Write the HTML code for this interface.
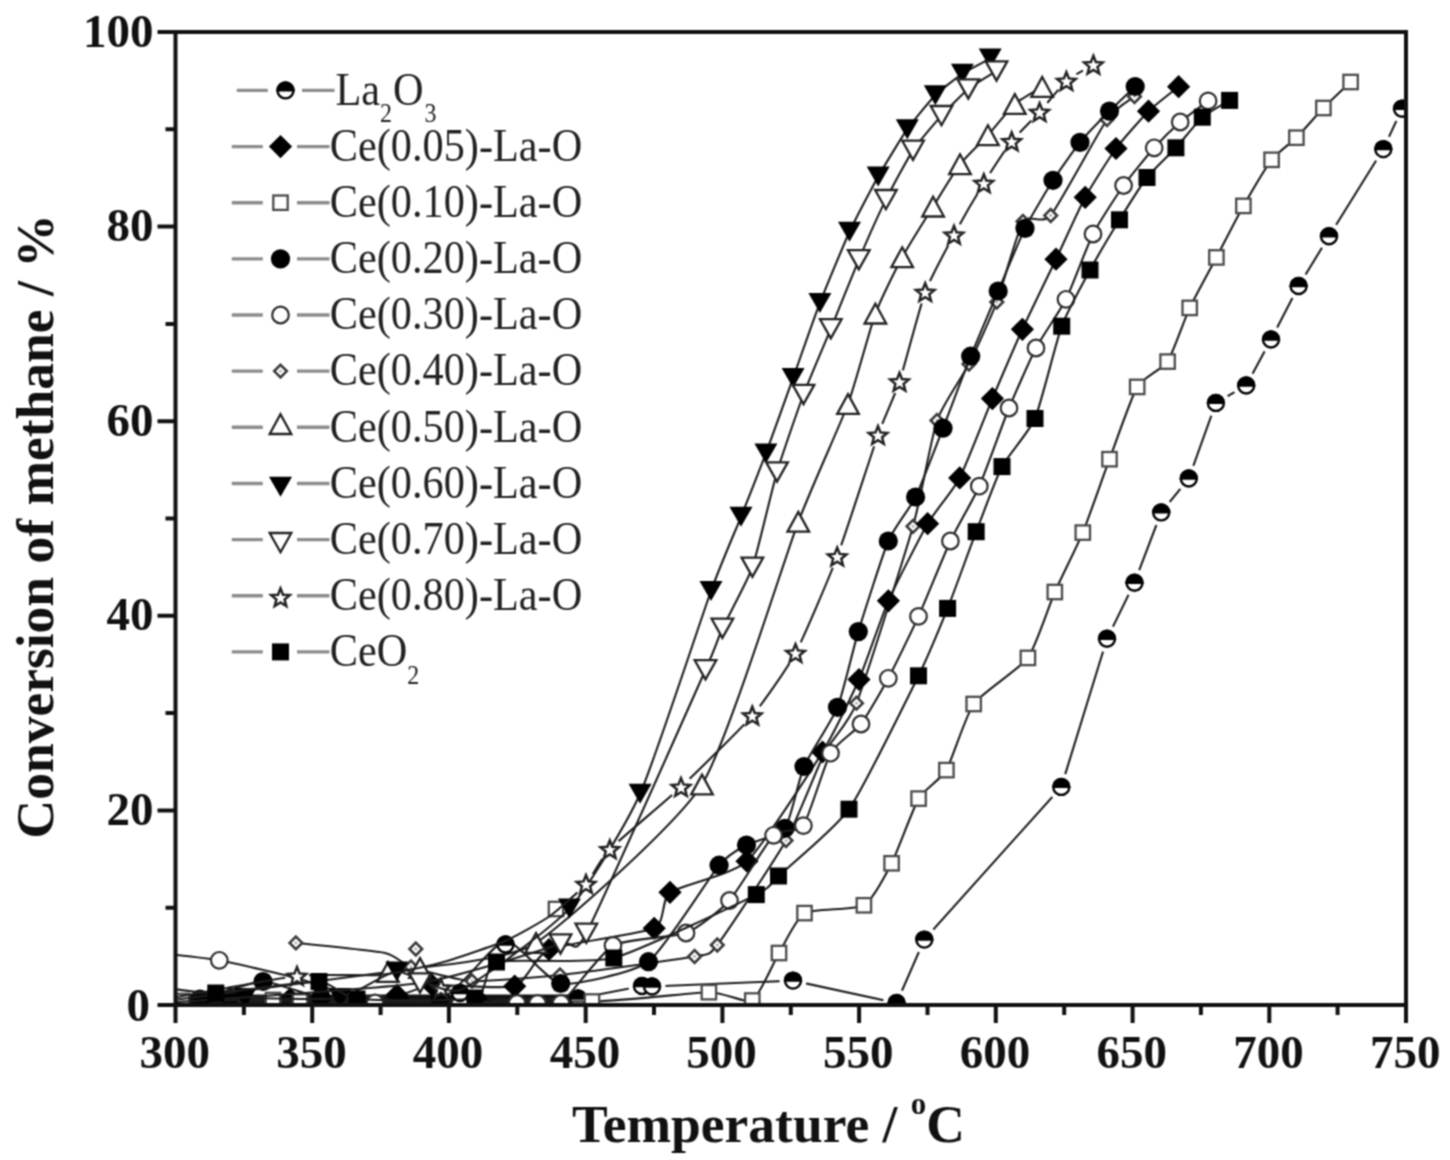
<!DOCTYPE html>
<html><head><meta charset="utf-8"><style>
html,body{margin:0;padding:0;background:#fff;overflow:hidden;}
svg{display:block;}
.tk{font-family:"Liberation Serif",serif;font-weight:bold;font-size:47px;fill:#111;}
.lg{font-family:"Liberation Serif",serif;font-size:45px;fill:#222;}
.tt{font-family:"Liberation Serif",serif;font-weight:bold;font-size:53.5px;fill:#111;}
</style></head><body>
<svg width="1450" height="1160" viewBox="0 0 1450 1160">
<defs><clipPath id="pa"><rect x="175.5" y="32.0" width="1230.5" height="973.0"/></clipPath></defs>
<filter id="soft" filterUnits="userSpaceOnUse" x="0" y="0" width="1450" height="1160" color-interpolation-filters="sRGB"><feConvolveMatrix order="3" kernelMatrix="1 2 1 2 4 2 1 2 1" divisor="16" edgeMode="duplicate"/></filter>
<rect width="1450" height="1160" fill="#fff"/>
<g filter="url(#soft)">
<rect width="1450" height="1160" fill="#fff"/>
<g clip-path="url(#pa)">
<defs><mask id="m_odia" maskUnits="userSpaceOnUse" x="0" y="0" width="1450" height="1160"><rect width="1450" height="1160" fill="#fff"/><circle cx="295.9" cy="942.9" r="0" fill="#000"/><circle cx="411.0" cy="967.0" r="0" fill="#000"/><circle cx="472.0" cy="981.0" r="0" fill="#000"/><circle cx="560.0" cy="975.0" r="0" fill="#000"/><circle cx="694.6" cy="956.5" r="0" fill="#000"/><circle cx="717.3" cy="945.0" r="0" fill="#000"/><circle cx="786.0" cy="840.5" r="0" fill="#000"/><circle cx="825.0" cy="752.0" r="0" fill="#000"/><circle cx="856.5" cy="703.2" r="0" fill="#000"/><circle cx="913.0" cy="526.3" r="0" fill="#000"/><circle cx="937.0" cy="420.5" r="0" fill="#000"/><circle cx="969.0" cy="364.0" r="0" fill="#000"/><circle cx="996.8" cy="302.0" r="0" fill="#000"/><circle cx="1023.0" cy="221.5" r="0" fill="#000"/><circle cx="1050.7" cy="215.5" r="0" fill="#000"/><circle cx="1107.0" cy="119.5" r="0" fill="#000"/><circle cx="1134.5" cy="96.5" r="0" fill="#000"/></mask><mask id="m_half" maskUnits="userSpaceOnUse" x="0" y="0" width="1450" height="1160"><rect width="1450" height="1160" fill="#fff"/><circle cx="200.0" cy="1001.5" r="13.5" fill="#000"/><circle cx="300.0" cy="1002.0" r="13.5" fill="#000"/><circle cx="400.0" cy="1002.0" r="13.5" fill="#000"/><circle cx="478.0" cy="1001.0" r="13.5" fill="#000"/><circle cx="578.0" cy="998.5" r="13.5" fill="#000"/><circle cx="642.0" cy="986.0" r="13.5" fill="#000"/><circle cx="652.0" cy="986.5" r="13.5" fill="#000"/><circle cx="793.0" cy="980.6" r="13.5" fill="#000"/><circle cx="896.6" cy="1003.0" r="13.5" fill="#000"/><circle cx="924.3" cy="939.6" r="13.5" fill="#000"/><circle cx="1061.3" cy="786.9" r="13.5" fill="#000"/><circle cx="1107.0" cy="638.8" r="13.5" fill="#000"/><circle cx="1134.5" cy="582.7" r="13.5" fill="#000"/><circle cx="1161.2" cy="512.4" r="13.5" fill="#000"/><circle cx="1188.8" cy="478.5" r="13.5" fill="#000"/><circle cx="1215.9" cy="402.9" r="13.5" fill="#000"/><circle cx="1246.2" cy="385.5" r="13.5" fill="#000"/><circle cx="1271.0" cy="339.5" r="13.5" fill="#000"/><circle cx="1298.6" cy="286.0" r="13.5" fill="#000"/><circle cx="1329.0" cy="236.2" r="13.5" fill="#000"/><circle cx="1383.3" cy="149.1" r="13.5" fill="#000"/><circle cx="1402.0" cy="108.8" r="13.5" fill="#000"/></mask><mask id="m_dia" maskUnits="userSpaceOnUse" x="0" y="0" width="1450" height="1160"><rect width="1450" height="1160" fill="#fff"/><circle cx="230.0" cy="998.0" r="0" fill="#000"/><circle cx="290.0" cy="999.0" r="0" fill="#000"/><circle cx="397.0" cy="995.0" r="0" fill="#000"/><circle cx="432.0" cy="985.0" r="0" fill="#000"/><circle cx="514.7" cy="986.2" r="0" fill="#000"/><circle cx="549.0" cy="949.5" r="0" fill="#000"/><circle cx="654.2" cy="928.3" r="0" fill="#000"/><circle cx="670.0" cy="892.3" r="0" fill="#000"/><circle cx="747.0" cy="861.2" r="0" fill="#000"/><circle cx="822.5" cy="752.0" r="0" fill="#000"/><circle cx="859.0" cy="679.5" r="0" fill="#000"/><circle cx="888.4" cy="600.8" r="0" fill="#000"/><circle cx="927.6" cy="523.7" r="0" fill="#000"/><circle cx="959.7" cy="477.9" r="0" fill="#000"/><circle cx="992.4" cy="398.6" r="0" fill="#000"/><circle cx="1022.4" cy="329.3" r="0" fill="#000"/><circle cx="1056.0" cy="259.2" r="0" fill="#000"/><circle cx="1085.2" cy="197.3" r="0" fill="#000"/><circle cx="1116.0" cy="148.5" r="0" fill="#000"/><circle cx="1148.5" cy="111.2" r="0" fill="#000"/><circle cx="1178.6" cy="86.7" r="0" fill="#000"/></mask><mask id="m_osq" maskUnits="userSpaceOnUse" x="0" y="0" width="1450" height="1160"><rect width="1450" height="1160" fill="#fff"/><circle cx="182.0" cy="1001.0" r="0" fill="#000"/><circle cx="273.0" cy="1000.0" r="0" fill="#000"/><circle cx="300.0" cy="1001.5" r="0" fill="#000"/><circle cx="592.0" cy="1001.5" r="0" fill="#000"/><circle cx="708.9" cy="992.2" r="0" fill="#000"/><circle cx="752.3" cy="1000.5" r="0" fill="#000"/><circle cx="779.0" cy="953.0" r="0" fill="#000"/><circle cx="804.5" cy="913.1" r="0" fill="#000"/><circle cx="863.9" cy="905.3" r="0" fill="#000"/><circle cx="891.6" cy="863.3" r="0" fill="#000"/><circle cx="918.6" cy="798.6" r="0" fill="#000"/><circle cx="946.4" cy="770.1" r="0" fill="#000"/><circle cx="973.7" cy="704.0" r="0" fill="#000"/><circle cx="1027.9" cy="657.9" r="0" fill="#000"/><circle cx="1054.8" cy="592.0" r="0" fill="#000"/><circle cx="1082.8" cy="532.6" r="0" fill="#000"/><circle cx="1109.5" cy="459.2" r="0" fill="#000"/><circle cx="1137.2" cy="386.9" r="0" fill="#000"/><circle cx="1167.6" cy="361.6" r="0" fill="#000"/><circle cx="1189.7" cy="307.9" r="0" fill="#000"/><circle cx="1216.4" cy="257.4" r="0" fill="#000"/><circle cx="1243.4" cy="205.9" r="0" fill="#000"/><circle cx="1271.6" cy="159.8" r="0" fill="#000"/><circle cx="1296.4" cy="137.7" r="0" fill="#000"/><circle cx="1323.4" cy="108.0" r="0" fill="#000"/><circle cx="1350.6" cy="82.0" r="0" fill="#000"/></mask><mask id="m_fcirc" maskUnits="userSpaceOnUse" x="0" y="0" width="1450" height="1160"><rect width="1450" height="1160" fill="#fff"/><circle cx="200.0" cy="999.0" r="0" fill="#000"/><circle cx="263.0" cy="981.5" r="0" fill="#000"/><circle cx="321.0" cy="997.0" r="0" fill="#000"/><circle cx="440.0" cy="999.0" r="0" fill="#000"/><circle cx="560.7" cy="983.5" r="0" fill="#000"/><circle cx="648.5" cy="961.7" r="0" fill="#000"/><circle cx="719.1" cy="865.2" r="0" fill="#000"/><circle cx="746.5" cy="845.0" r="0" fill="#000"/><circle cx="785.0" cy="828.3" r="0" fill="#000"/><circle cx="804.0" cy="766.5" r="0" fill="#000"/><circle cx="837.5" cy="707.3" r="0" fill="#000"/><circle cx="858.3" cy="631.6" r="0" fill="#000"/><circle cx="888.3" cy="541.0" r="0" fill="#000"/><circle cx="915.6" cy="497.0" r="0" fill="#000"/><circle cx="943.0" cy="428.2" r="0" fill="#000"/><circle cx="970.7" cy="356.2" r="0" fill="#000"/><circle cx="998.2" cy="291.0" r="0" fill="#000"/><circle cx="1025.0" cy="228.4" r="0" fill="#000"/><circle cx="1053.0" cy="180.3" r="0" fill="#000"/><circle cx="1080.0" cy="142.4" r="0" fill="#000"/><circle cx="1109.5" cy="111.1" r="0" fill="#000"/><circle cx="1135.2" cy="86.5" r="0" fill="#000"/></mask><mask id="m_ocirc" maskUnits="userSpaceOnUse" x="0" y="0" width="1450" height="1160"><rect width="1450" height="1160" fill="#fff"/><circle cx="160.0" cy="953.0" r="0" fill="#000"/><circle cx="219.3" cy="960.3" r="0" fill="#000"/><circle cx="375.0" cy="1003.0" r="0" fill="#000"/><circle cx="460.0" cy="1003.5" r="0" fill="#000"/><circle cx="517.0" cy="1003.5" r="0" fill="#000"/><circle cx="537.5" cy="1003.5" r="0" fill="#000"/><circle cx="561.0" cy="1003.5" r="0" fill="#000"/><circle cx="613.0" cy="945.5" r="0" fill="#000"/><circle cx="686.0" cy="933.0" r="0" fill="#000"/><circle cx="729.5" cy="900.5" r="0" fill="#000"/><circle cx="773.6" cy="835.3" r="0" fill="#000"/><circle cx="803.4" cy="825.6" r="0" fill="#000"/><circle cx="830.5" cy="753.2" r="0" fill="#000"/><circle cx="861.0" cy="724.0" r="0" fill="#000"/><circle cx="888.3" cy="678.3" r="0" fill="#000"/><circle cx="918.5" cy="616.4" r="0" fill="#000"/><circle cx="950.4" cy="541.0" r="0" fill="#000"/><circle cx="979.3" cy="486.2" r="0" fill="#000"/><circle cx="1009.0" cy="408.0" r="0" fill="#000"/><circle cx="1036.0" cy="348.0" r="0" fill="#000"/><circle cx="1066.0" cy="299.3" r="0" fill="#000"/><circle cx="1093.0" cy="234.0" r="0" fill="#000"/><circle cx="1123.6" cy="185.5" r="0" fill="#000"/><circle cx="1154.2" cy="147.8" r="0" fill="#000"/><circle cx="1180.2" cy="122.0" r="0" fill="#000"/><circle cx="1208.1" cy="100.9" r="0" fill="#000"/></mask><mask id="m_otri" maskUnits="userSpaceOnUse" x="0" y="0" width="1450" height="1160"><rect width="1450" height="1160" fill="#fff"/><circle cx="388.0" cy="972.0" r="0" fill="#000"/><circle cx="420.0" cy="968.0" r="0" fill="#000"/><circle cx="536.0" cy="943.0" r="0" fill="#000"/><circle cx="702.0" cy="784.5" r="0" fill="#000"/><circle cx="798.3" cy="521.8" r="0" fill="#000"/><circle cx="848.0" cy="404.0" r="0" fill="#000"/><circle cx="875.4" cy="313.6" r="0" fill="#000"/><circle cx="902.2" cy="257.2" r="0" fill="#000"/><circle cx="933.1" cy="206.6" r="0" fill="#000"/><circle cx="960.0" cy="164.2" r="0" fill="#000"/><circle cx="987.9" cy="135.2" r="0" fill="#000"/><circle cx="1014.8" cy="104.0" r="0" fill="#000"/><circle cx="1042.2" cy="86.9" r="0" fill="#000"/></mask><mask id="m_ftri_d" maskUnits="userSpaceOnUse" x="0" y="0" width="1450" height="1160"><rect width="1450" height="1160" fill="#fff"/><circle cx="245.0" cy="998.0" r="0" fill="#000"/><circle cx="340.0" cy="998.0" r="0" fill="#000"/><circle cx="396.8" cy="971.5" r="0" fill="#000"/><circle cx="569.4" cy="908.6" r="0" fill="#000"/><circle cx="640.1" cy="793.8" r="0" fill="#000"/><circle cx="711.0" cy="591.0" r="0" fill="#000"/><circle cx="741.0" cy="516.8" r="0" fill="#000"/><circle cx="765.9" cy="453.4" r="0" fill="#000"/><circle cx="793.1" cy="377.9" r="0" fill="#000"/><circle cx="819.9" cy="302.9" r="0" fill="#000"/><circle cx="849.5" cy="231.8" r="0" fill="#000"/><circle cx="878.2" cy="176.5" r="0" fill="#000"/><circle cx="907.3" cy="129.2" r="0" fill="#000"/><circle cx="935.3" cy="95.2" r="0" fill="#000"/><circle cx="962.4" cy="73.8" r="0" fill="#000"/><circle cx="990.2" cy="58.6" r="0" fill="#000"/></mask><mask id="m_otri_d" maskUnits="userSpaceOnUse" x="0" y="0" width="1450" height="1160"><rect width="1450" height="1160" fill="#fff"/><circle cx="420.0" cy="983.0" r="0" fill="#000"/><circle cx="560.5" cy="944.0" r="0" fill="#000"/><circle cx="586.3" cy="933.3" r="0" fill="#000"/><circle cx="705.5" cy="669.8" r="0" fill="#000"/><circle cx="722.4" cy="628.3" r="0" fill="#000"/><circle cx="752.4" cy="567.2" r="0" fill="#000"/><circle cx="777.0" cy="472.0" r="0" fill="#000"/><circle cx="803.5" cy="394.5" r="0" fill="#000"/><circle cx="830.8" cy="328.8" r="0" fill="#000"/><circle cx="858.8" cy="259.8" r="0" fill="#000"/><circle cx="885.9" cy="199.6" r="0" fill="#000"/><circle cx="913.0" cy="150.3" r="0" fill="#000"/><circle cx="941.5" cy="115.6" r="0" fill="#000"/><circle cx="968.3" cy="89.0" r="0" fill="#000"/><circle cx="996.5" cy="71.0" r="0" fill="#000"/></mask><mask id="m_star" maskUnits="userSpaceOnUse" x="0" y="0" width="1450" height="1160"><rect width="1450" height="1160" fill="#fff"/><circle cx="297.0" cy="976.0" r="12" fill="#000"/><circle cx="586.0" cy="884.0" r="12" fill="#000"/><circle cx="609.8" cy="849.3" r="12" fill="#000"/><circle cx="681.0" cy="787.0" r="12" fill="#000"/><circle cx="752.3" cy="715.6" r="12" fill="#000"/><circle cx="795.5" cy="653.0" r="12" fill="#000"/><circle cx="837.2" cy="556.5" r="12" fill="#000"/><circle cx="878.0" cy="435.0" r="12" fill="#000"/><circle cx="899.5" cy="381.7" r="12" fill="#000"/><circle cx="925.2" cy="292.1" r="12" fill="#000"/><circle cx="954.0" cy="234.8" r="12" fill="#000"/><circle cx="983.8" cy="183.2" r="12" fill="#000"/><circle cx="1011.7" cy="141.4" r="12" fill="#000"/><circle cx="1039.6" cy="112.0" r="12" fill="#000"/><circle cx="1066.4" cy="81.0" r="12" fill="#000"/><circle cx="1093.4" cy="64.7" r="12" fill="#000"/></mask><mask id="m_fsq" maskUnits="userSpaceOnUse" x="0" y="0" width="1450" height="1160"><rect width="1450" height="1160" fill="#fff"/><circle cx="160.0" cy="987.0" r="0" fill="#000"/><circle cx="215.8" cy="993.0" r="0" fill="#000"/><circle cx="319.0" cy="981.5" r="0" fill="#000"/><circle cx="357.0" cy="999.0" r="0" fill="#000"/><circle cx="475.0" cy="998.0" r="0" fill="#000"/><circle cx="496.5" cy="962.0" r="0" fill="#000"/><circle cx="613.8" cy="958.0" r="0" fill="#000"/><circle cx="756.3" cy="894.6" r="0" fill="#000"/><circle cx="778.5" cy="876.0" r="0" fill="#000"/><circle cx="849.0" cy="809.2" r="0" fill="#000"/><circle cx="918.5" cy="675.8" r="0" fill="#000"/><circle cx="947.6" cy="608.4" r="0" fill="#000"/><circle cx="976.2" cy="531.7" r="0" fill="#000"/><circle cx="1002.0" cy="466.6" r="0" fill="#000"/><circle cx="1035.0" cy="418.5" r="0" fill="#000"/><circle cx="1061.7" cy="326.2" r="0" fill="#000"/><circle cx="1090.0" cy="270.0" r="0" fill="#000"/><circle cx="1119.5" cy="219.8" r="0" fill="#000"/><circle cx="1147.0" cy="177.5" r="0" fill="#000"/><circle cx="1175.9" cy="147.8" r="0" fill="#000"/><circle cx="1202.3" cy="117.2" r="0" fill="#000"/><circle cx="1229.6" cy="100.4" r="0" fill="#000"/></mask></defs>
<path d="M187,994.5 H598 V1005 H187 Z" fill="#111"/>
<path d="M295.9,942.9C304.2,943.8 374.3,950.8 385.0,953.0C395.7,955.2 402.9,964.4 411.0,967.0C419.1,969.6 458.1,980.3 472.0,981.0C485.9,981.7 539.2,977.3 560.0,975.0C580.8,972.7 679.9,959.3 694.6,956.5C709.3,953.7 708.8,955.8 717.3,945.0C725.8,934.2 775.9,858.5 786.0,840.5C796.1,822.5 818.4,764.8 825.0,752.0C831.6,739.2 848.3,724.3 856.5,703.2C864.7,682.1 905.5,552.7 913.0,526.3C920.5,499.9 931.8,435.6 937.0,420.5C942.2,405.4 963.4,375.1 969.0,364.0C974.6,352.9 991.8,315.3 996.8,302.0C1001.8,288.7 1018.0,229.6 1023.0,221.5C1028.0,213.4 1042.9,225.0 1050.7,215.5C1058.5,206.0 1099.2,130.6 1107.0,119.5C1114.8,108.4 1131.9,98.6 1134.5,96.5" fill="none" stroke="#1e1e1e" stroke-width="2.1" mask="url(#m_odia)"/>
<path d="M295.9,936.6L302.2,942.9L295.9,949.2L289.6,942.9Z" fill="#fff" stroke="#3a3a3a" stroke-width="2.6"/><circle cx="295.9" cy="942.9" r="1.4" fill="#b0b0b0"/>
<path d="M411.0,960.7L417.3,967.0L411.0,973.3L404.7,967.0Z" fill="#fff" stroke="#3a3a3a" stroke-width="2.6"/><circle cx="411.0" cy="967.0" r="1.4" fill="#b0b0b0"/>
<path d="M472.0,974.7L478.3,981.0L472.0,987.3L465.7,981.0Z" fill="#fff" stroke="#3a3a3a" stroke-width="2.6"/><circle cx="472.0" cy="981.0" r="1.4" fill="#b0b0b0"/>
<path d="M560.0,968.7L566.3,975.0L560.0,981.3L553.7,975.0Z" fill="#fff" stroke="#3a3a3a" stroke-width="2.6"/><circle cx="560.0" cy="975.0" r="1.4" fill="#b0b0b0"/>
<path d="M694.6,950.2L700.9,956.5L694.6,962.8L688.3,956.5Z" fill="#fff" stroke="#3a3a3a" stroke-width="2.6"/><circle cx="694.6" cy="956.5" r="1.4" fill="#b0b0b0"/>
<path d="M717.3,938.7L723.6,945.0L717.3,951.3L711.0,945.0Z" fill="#fff" stroke="#3a3a3a" stroke-width="2.6"/><circle cx="717.3" cy="945.0" r="1.4" fill="#b0b0b0"/>
<path d="M786.0,834.2L792.3,840.5L786.0,846.8L779.7,840.5Z" fill="#fff" stroke="#3a3a3a" stroke-width="2.6"/><circle cx="786.0" cy="840.5" r="1.4" fill="#b0b0b0"/>
<path d="M825.0,745.7L831.3,752.0L825.0,758.3L818.7,752.0Z" fill="#fff" stroke="#3a3a3a" stroke-width="2.6"/><circle cx="825.0" cy="752.0" r="1.4" fill="#b0b0b0"/>
<path d="M856.5,696.9L862.8,703.2L856.5,709.5L850.2,703.2Z" fill="#fff" stroke="#3a3a3a" stroke-width="2.6"/><circle cx="856.5" cy="703.2" r="1.4" fill="#b0b0b0"/>
<path d="M913.0,520.0L919.3,526.3L913.0,532.6L906.7,526.3Z" fill="#fff" stroke="#3a3a3a" stroke-width="2.6"/><circle cx="913.0" cy="526.3" r="1.4" fill="#b0b0b0"/>
<path d="M937.0,414.2L943.3,420.5L937.0,426.8L930.7,420.5Z" fill="#fff" stroke="#3a3a3a" stroke-width="2.6"/><circle cx="937.0" cy="420.5" r="1.4" fill="#b0b0b0"/>
<path d="M969.0,357.7L975.3,364.0L969.0,370.3L962.7,364.0Z" fill="#fff" stroke="#3a3a3a" stroke-width="2.6"/><circle cx="969.0" cy="364.0" r="1.4" fill="#b0b0b0"/>
<path d="M996.8,295.7L1003.1,302.0L996.8,308.3L990.5,302.0Z" fill="#fff" stroke="#3a3a3a" stroke-width="2.6"/><circle cx="996.8" cy="302.0" r="1.4" fill="#b0b0b0"/>
<path d="M1023.0,215.2L1029.3,221.5L1023.0,227.8L1016.7,221.5Z" fill="#fff" stroke="#3a3a3a" stroke-width="2.6"/><circle cx="1023.0" cy="221.5" r="1.4" fill="#b0b0b0"/>
<path d="M1050.7,209.2L1057.0,215.5L1050.7,221.8L1044.4,215.5Z" fill="#fff" stroke="#3a3a3a" stroke-width="2.6"/><circle cx="1050.7" cy="215.5" r="1.4" fill="#b0b0b0"/>
<path d="M1107.0,113.2L1113.3,119.5L1107.0,125.8L1100.7,119.5Z" fill="#fff" stroke="#3a3a3a" stroke-width="2.6"/><circle cx="1107.0" cy="119.5" r="1.4" fill="#b0b0b0"/>
<path d="M1134.5,90.2L1140.8,96.5L1134.5,102.8L1128.2,96.5Z" fill="#fff" stroke="#3a3a3a" stroke-width="2.6"/><circle cx="1134.5" cy="96.5" r="1.4" fill="#b0b0b0"/>
<path d="M200.0,1001.5C200.0,1001.5 300.0,1002.0 300.0,1002.0C300.0,1002.0 400.0,1002.0 400.0,1002.0C400.0,1002.0 478.0,1001.0 478.0,1001.0C478.0,1001.0 578.0,998.5 578.0,998.5C578.0,998.5 642.0,986.0 642.0,986.0C642.0,986.0 652.0,986.5 652.0,986.5C652.0,986.5 793.0,980.6 793.0,980.6C793.0,980.6 896.6,1003.0 896.6,1003.0C896.6,1003.0 924.3,939.6 924.3,939.6C924.3,939.6 1061.3,786.9 1061.3,786.9C1061.3,786.9 1107.0,638.8 1107.0,638.8C1107.0,638.8 1134.5,582.7 1134.5,582.7C1134.5,582.7 1161.2,512.4 1161.2,512.4C1161.2,512.4 1188.8,478.5 1188.8,478.5C1188.8,478.5 1215.9,402.9 1215.9,402.9C1215.9,402.9 1246.2,385.5 1246.2,385.5C1246.2,385.5 1271.0,339.5 1271.0,339.5C1271.0,339.5 1298.6,286.0 1298.6,286.0C1298.6,286.0 1329.0,236.2 1329.0,236.2C1329.0,236.2 1383.3,149.1 1383.3,149.1C1383.3,149.1 1402.0,108.8 1402.0,108.8" fill="none" stroke="#1e1e1e" stroke-width="2.1" mask="url(#m_half)"/>
<circle cx="200.0" cy="1001.5" r="8.0" fill="#fff" stroke="#000" stroke-width="2.4"/><path d="M192.0,1001.5A8.0,8.0 0 0 1 208.0,1001.5Z" fill="#000" stroke="#000" stroke-width="2.4"/>
<circle cx="300.0" cy="1002.0" r="8.0" fill="#fff" stroke="#000" stroke-width="2.4"/><path d="M292.0,1002.0A8.0,8.0 0 0 1 308.0,1002.0Z" fill="#000" stroke="#000" stroke-width="2.4"/>
<circle cx="400.0" cy="1002.0" r="8.0" fill="#fff" stroke="#000" stroke-width="2.4"/><path d="M392.0,1002.0A8.0,8.0 0 0 1 408.0,1002.0Z" fill="#000" stroke="#000" stroke-width="2.4"/>
<circle cx="478.0" cy="1001.0" r="8.0" fill="#fff" stroke="#000" stroke-width="2.4"/><path d="M470.0,1001.0A8.0,8.0 0 0 1 486.0,1001.0Z" fill="#000" stroke="#000" stroke-width="2.4"/>
<circle cx="578.0" cy="998.5" r="8.0" fill="#fff" stroke="#000" stroke-width="2.4"/><path d="M570.0,998.5A8.0,8.0 0 0 1 586.0,998.5Z" fill="#000" stroke="#000" stroke-width="2.4"/>
<circle cx="642.0" cy="986.0" r="8.0" fill="#fff" stroke="#000" stroke-width="2.4"/><path d="M634.0,986.0A8.0,8.0 0 0 1 650.0,986.0Z" fill="#000" stroke="#000" stroke-width="2.4"/>
<circle cx="652.0" cy="986.5" r="8.0" fill="#fff" stroke="#000" stroke-width="2.4"/><path d="M644.0,986.5A8.0,8.0 0 0 1 660.0,986.5Z" fill="#000" stroke="#000" stroke-width="2.4"/>
<circle cx="793.0" cy="980.6" r="8.0" fill="#fff" stroke="#000" stroke-width="2.4"/><path d="M785.0,980.6A8.0,8.0 0 0 1 801.0,980.6Z" fill="#000" stroke="#000" stroke-width="2.4"/>
<circle cx="896.6" cy="1003.0" r="8.0" fill="#fff" stroke="#000" stroke-width="2.4"/><path d="M888.6,1003.0A8.0,8.0 0 0 1 904.6,1003.0Z" fill="#000" stroke="#000" stroke-width="2.4"/>
<circle cx="924.3" cy="939.6" r="8.0" fill="#fff" stroke="#000" stroke-width="2.4"/><path d="M916.3,939.6A8.0,8.0 0 0 1 932.3,939.6Z" fill="#000" stroke="#000" stroke-width="2.4"/>
<circle cx="1061.3" cy="786.9" r="8.0" fill="#fff" stroke="#000" stroke-width="2.4"/><path d="M1053.3,786.9A8.0,8.0 0 0 1 1069.3,786.9Z" fill="#000" stroke="#000" stroke-width="2.4"/>
<circle cx="1107.0" cy="638.8" r="8.0" fill="#fff" stroke="#000" stroke-width="2.4"/><path d="M1099.0,638.8A8.0,8.0 0 0 1 1115.0,638.8Z" fill="#000" stroke="#000" stroke-width="2.4"/>
<circle cx="1134.5" cy="582.7" r="8.0" fill="#fff" stroke="#000" stroke-width="2.4"/><path d="M1126.5,582.7A8.0,8.0 0 0 1 1142.5,582.7Z" fill="#000" stroke="#000" stroke-width="2.4"/>
<circle cx="1161.2" cy="512.4" r="8.0" fill="#fff" stroke="#000" stroke-width="2.4"/><path d="M1153.2,512.4A8.0,8.0 0 0 1 1169.2,512.4Z" fill="#000" stroke="#000" stroke-width="2.4"/>
<circle cx="1188.8" cy="478.5" r="8.0" fill="#fff" stroke="#000" stroke-width="2.4"/><path d="M1180.8,478.5A8.0,8.0 0 0 1 1196.8,478.5Z" fill="#000" stroke="#000" stroke-width="2.4"/>
<circle cx="1215.9" cy="402.9" r="8.0" fill="#fff" stroke="#000" stroke-width="2.4"/><path d="M1207.9,402.9A8.0,8.0 0 0 1 1223.9,402.9Z" fill="#000" stroke="#000" stroke-width="2.4"/>
<circle cx="1246.2" cy="385.5" r="8.0" fill="#fff" stroke="#000" stroke-width="2.4"/><path d="M1238.2,385.5A8.0,8.0 0 0 1 1254.2,385.5Z" fill="#000" stroke="#000" stroke-width="2.4"/>
<circle cx="1271.0" cy="339.5" r="8.0" fill="#fff" stroke="#000" stroke-width="2.4"/><path d="M1263.0,339.5A8.0,8.0 0 0 1 1279.0,339.5Z" fill="#000" stroke="#000" stroke-width="2.4"/>
<circle cx="1298.6" cy="286.0" r="8.0" fill="#fff" stroke="#000" stroke-width="2.4"/><path d="M1290.6,286.0A8.0,8.0 0 0 1 1306.6,286.0Z" fill="#000" stroke="#000" stroke-width="2.4"/>
<circle cx="1329.0" cy="236.2" r="8.0" fill="#fff" stroke="#000" stroke-width="2.4"/><path d="M1321.0,236.2A8.0,8.0 0 0 1 1337.0,236.2Z" fill="#000" stroke="#000" stroke-width="2.4"/>
<circle cx="1383.3" cy="149.1" r="8.0" fill="#fff" stroke="#000" stroke-width="2.4"/><path d="M1375.3,149.1A8.0,8.0 0 0 1 1391.3,149.1Z" fill="#000" stroke="#000" stroke-width="2.4"/>
<circle cx="1402.0" cy="108.8" r="8.0" fill="#fff" stroke="#000" stroke-width="2.4"/><path d="M1394.0,108.8A8.0,8.0 0 0 1 1410.0,108.8Z" fill="#000" stroke="#000" stroke-width="2.4"/>
<path d="M230.0,998.0C235.6,998.1 274.4,999.3 290.0,999.0C305.6,998.7 383.7,996.3 397.0,995.0C410.3,993.7 421.0,985.8 432.0,985.0C443.0,984.2 503.8,989.5 514.7,986.2C525.6,982.9 536.0,954.9 549.0,949.5C562.0,944.1 642.9,933.6 654.2,928.3C665.5,923.0 661.3,898.6 670.0,892.3C678.7,886.0 732.8,874.3 747.0,861.2C761.2,848.1 812.0,769.0 822.5,752.0C833.0,735.0 852.8,693.6 859.0,679.5C865.2,665.4 882.0,615.3 888.4,600.8C894.8,586.3 920.9,535.2 927.6,523.7C934.3,512.2 953.7,489.6 959.7,477.9C965.7,466.2 986.5,412.5 992.4,398.6C998.3,384.7 1016.5,342.3 1022.4,329.3C1028.3,316.3 1050.1,271.5 1056.0,259.2C1061.9,246.9 1079.6,207.6 1085.2,197.3C1090.8,187.0 1110.1,156.5 1116.0,148.5C1121.9,140.5 1142.7,117.0 1148.5,111.2C1154.3,105.4 1175.8,89.0 1178.6,86.7" fill="none" stroke="#1e1e1e" stroke-width="2.1" mask="url(#m_dia)"/>
<path d="M230.0,986.4L241.6,998.0L230.0,1009.6L218.4,998.0Z" fill="#000"/>
<path d="M290.0,987.4L301.6,999.0L290.0,1010.6L278.4,999.0Z" fill="#000"/>
<path d="M397.0,983.4L408.6,995.0L397.0,1006.6L385.4,995.0Z" fill="#000"/>
<path d="M432.0,973.4L443.6,985.0L432.0,996.6L420.4,985.0Z" fill="#000"/>
<path d="M514.7,974.6L526.3,986.2L514.7,997.8L503.1,986.2Z" fill="#000"/>
<path d="M549.0,937.9L560.6,949.5L549.0,961.1L537.4,949.5Z" fill="#000"/>
<path d="M654.2,916.7L665.8,928.3L654.2,939.9L642.6,928.3Z" fill="#000"/>
<path d="M670.0,880.7L681.6,892.3L670.0,903.9L658.4,892.3Z" fill="#000"/>
<path d="M747.0,849.6L758.6,861.2L747.0,872.8L735.4,861.2Z" fill="#000"/>
<path d="M822.5,740.4L834.1,752.0L822.5,763.6L810.9,752.0Z" fill="#000"/>
<path d="M859.0,667.9L870.6,679.5L859.0,691.1L847.4,679.5Z" fill="#000"/>
<path d="M888.4,589.2L900.0,600.8L888.4,612.4L876.8,600.8Z" fill="#000"/>
<path d="M927.6,512.1L939.2,523.7L927.6,535.3L916.0,523.7Z" fill="#000"/>
<path d="M959.7,466.3L971.3,477.9L959.7,489.5L948.1,477.9Z" fill="#000"/>
<path d="M992.4,387.0L1004.0,398.6L992.4,410.2L980.8,398.6Z" fill="#000"/>
<path d="M1022.4,317.7L1034.0,329.3L1022.4,340.9L1010.8,329.3Z" fill="#000"/>
<path d="M1056.0,247.6L1067.6,259.2L1056.0,270.8L1044.4,259.2Z" fill="#000"/>
<path d="M1085.2,185.7L1096.8,197.3L1085.2,208.9L1073.6,197.3Z" fill="#000"/>
<path d="M1116.0,136.9L1127.6,148.5L1116.0,160.1L1104.4,148.5Z" fill="#000"/>
<path d="M1148.5,99.6L1160.1,111.2L1148.5,122.8L1136.9,111.2Z" fill="#000"/>
<path d="M1178.6,75.1L1190.2,86.7L1178.6,98.3L1167.0,86.7Z" fill="#000"/>
<path d="M182.0,1001.0C190.5,1000.9 262.0,1000.0 273.0,1000.0C284.0,1000.0 270.2,1001.4 300.0,1001.5C329.8,1001.6 553.8,1002.4 592.0,1001.5C630.2,1000.6 693.9,992.3 708.9,992.2C723.9,992.1 745.8,1004.2 752.3,1000.5C758.8,996.8 774.1,961.2 779.0,953.0C783.9,944.8 796.6,917.6 804.5,913.1C812.4,908.6 855.8,909.9 863.9,905.3C872.0,900.7 886.5,873.3 891.6,863.3C896.7,853.3 913.5,807.3 918.6,798.6C923.7,789.9 941.3,778.9 946.4,770.1C951.5,761.3 966.1,714.5 973.7,704.0C981.3,693.5 1020.3,668.4 1027.9,657.9C1035.5,647.4 1049.7,603.7 1054.8,592.0C1059.9,580.3 1077.7,545.0 1082.8,532.6C1087.9,520.2 1104.4,472.8 1109.5,459.2C1114.6,445.6 1131.8,396.0 1137.2,386.9C1142.6,377.8 1162.7,369.0 1167.6,361.6C1172.5,354.2 1185.1,317.6 1189.7,307.9C1194.3,298.2 1211.4,266.9 1216.4,257.4C1221.4,247.9 1238.2,215.0 1243.4,205.9C1248.6,196.8 1266.7,166.2 1271.6,159.8C1276.5,153.4 1291.6,142.5 1296.4,137.7C1301.2,132.9 1318.3,113.2 1323.4,108.0C1328.5,102.8 1348.1,84.4 1350.6,82.0" fill="none" stroke="#1e1e1e" stroke-width="2.1" mask="url(#m_osq)"/>
<rect x="174.8" y="993.8" width="14.4" height="14.4" fill="#fff" stroke="#4a4a4a" stroke-width="2.3"/>
<rect x="265.8" y="992.8" width="14.4" height="14.4" fill="#fff" stroke="#4a4a4a" stroke-width="2.3"/>
<rect x="292.8" y="994.3" width="14.4" height="14.4" fill="#fff" stroke="#4a4a4a" stroke-width="2.3"/>
<rect x="584.8" y="994.3" width="14.4" height="14.4" fill="#fff" stroke="#4a4a4a" stroke-width="2.3"/>
<rect x="701.7" y="985.0" width="14.4" height="14.4" fill="#fff" stroke="#4a4a4a" stroke-width="2.3"/>
<rect x="745.1" y="993.3" width="14.4" height="14.4" fill="#fff" stroke="#4a4a4a" stroke-width="2.3"/>
<rect x="771.8" y="945.8" width="14.4" height="14.4" fill="#fff" stroke="#4a4a4a" stroke-width="2.3"/>
<rect x="797.3" y="905.9" width="14.4" height="14.4" fill="#fff" stroke="#4a4a4a" stroke-width="2.3"/>
<rect x="856.7" y="898.1" width="14.4" height="14.4" fill="#fff" stroke="#4a4a4a" stroke-width="2.3"/>
<rect x="884.4" y="856.1" width="14.4" height="14.4" fill="#fff" stroke="#4a4a4a" stroke-width="2.3"/>
<rect x="911.4" y="791.4" width="14.4" height="14.4" fill="#fff" stroke="#4a4a4a" stroke-width="2.3"/>
<rect x="939.2" y="762.9" width="14.4" height="14.4" fill="#fff" stroke="#4a4a4a" stroke-width="2.3"/>
<rect x="966.5" y="696.8" width="14.4" height="14.4" fill="#fff" stroke="#4a4a4a" stroke-width="2.3"/>
<rect x="1020.7" y="650.7" width="14.4" height="14.4" fill="#fff" stroke="#4a4a4a" stroke-width="2.3"/>
<rect x="1047.6" y="584.8" width="14.4" height="14.4" fill="#fff" stroke="#4a4a4a" stroke-width="2.3"/>
<rect x="1075.6" y="525.4" width="14.4" height="14.4" fill="#fff" stroke="#4a4a4a" stroke-width="2.3"/>
<rect x="1102.3" y="452.0" width="14.4" height="14.4" fill="#fff" stroke="#4a4a4a" stroke-width="2.3"/>
<rect x="1130.0" y="379.7" width="14.4" height="14.4" fill="#fff" stroke="#4a4a4a" stroke-width="2.3"/>
<rect x="1160.4" y="354.4" width="14.4" height="14.4" fill="#fff" stroke="#4a4a4a" stroke-width="2.3"/>
<rect x="1182.5" y="300.7" width="14.4" height="14.4" fill="#fff" stroke="#4a4a4a" stroke-width="2.3"/>
<rect x="1209.2" y="250.2" width="14.4" height="14.4" fill="#fff" stroke="#4a4a4a" stroke-width="2.3"/>
<rect x="1236.2" y="198.7" width="14.4" height="14.4" fill="#fff" stroke="#4a4a4a" stroke-width="2.3"/>
<rect x="1264.4" y="152.6" width="14.4" height="14.4" fill="#fff" stroke="#4a4a4a" stroke-width="2.3"/>
<rect x="1289.2" y="130.5" width="14.4" height="14.4" fill="#fff" stroke="#4a4a4a" stroke-width="2.3"/>
<rect x="1316.2" y="100.8" width="14.4" height="14.4" fill="#fff" stroke="#4a4a4a" stroke-width="2.3"/>
<rect x="1343.4" y="74.8" width="14.4" height="14.4" fill="#fff" stroke="#4a4a4a" stroke-width="2.3"/>
<path d="M200.0,999.0C205.9,997.4 251.7,981.7 263.0,981.5C274.3,981.3 304.5,995.4 321.0,997.0C337.5,998.6 422.8,1004.2 440.0,999.0C457.2,993.8 493.7,942.4 505.0,941.0C516.3,939.6 547.3,981.6 560.7,983.5C574.1,985.4 633.7,972.7 648.5,961.7C663.3,950.7 710.0,876.1 719.1,865.2C728.2,854.3 740.3,848.4 746.5,845.0C752.7,841.6 779.6,835.6 785.0,828.3C790.4,821.0 799.1,777.8 804.0,766.5C808.9,755.2 832.4,719.9 837.5,707.3C842.6,694.7 853.6,647.1 858.3,631.6C863.0,616.1 883.0,553.6 888.3,541.0C893.6,528.4 910.5,507.5 915.6,497.0C920.7,486.5 937.9,441.3 943.0,428.2C948.1,415.1 965.5,369.0 970.7,356.2C975.9,343.4 993.1,302.9 998.2,291.0C1003.3,279.1 1019.9,238.7 1025.0,228.4C1030.1,218.1 1047.9,188.3 1053.0,180.3C1058.1,172.3 1074.7,148.9 1080.0,142.4C1085.3,135.9 1104.3,116.3 1109.5,111.1C1114.7,105.9 1132.8,88.8 1135.2,86.5" fill="none" stroke="#1e1e1e" stroke-width="2.1" mask="url(#m_fcirc)"/>
<circle cx="200.0" cy="999.0" r="9.6" fill="#000"/>
<circle cx="263.0" cy="981.5" r="9.6" fill="#000"/>
<circle cx="321.0" cy="997.0" r="9.6" fill="#000"/>
<circle cx="440.0" cy="999.0" r="9.6" fill="#000"/>
<circle cx="560.7" cy="983.5" r="9.6" fill="#000"/>
<circle cx="648.5" cy="961.7" r="9.6" fill="#000"/>
<circle cx="719.1" cy="865.2" r="9.6" fill="#000"/>
<circle cx="746.5" cy="845.0" r="9.6" fill="#000"/>
<circle cx="785.0" cy="828.3" r="9.6" fill="#000"/>
<circle cx="804.0" cy="766.5" r="9.6" fill="#000"/>
<circle cx="837.5" cy="707.3" r="9.6" fill="#000"/>
<circle cx="858.3" cy="631.6" r="9.6" fill="#000"/>
<circle cx="888.3" cy="541.0" r="9.6" fill="#000"/>
<circle cx="915.6" cy="497.0" r="9.6" fill="#000"/>
<circle cx="943.0" cy="428.2" r="9.6" fill="#000"/>
<circle cx="970.7" cy="356.2" r="9.6" fill="#000"/>
<circle cx="998.2" cy="291.0" r="9.6" fill="#000"/>
<circle cx="1025.0" cy="228.4" r="9.6" fill="#000"/>
<circle cx="1053.0" cy="180.3" r="9.6" fill="#000"/>
<circle cx="1080.0" cy="142.4" r="9.6" fill="#000"/>
<circle cx="1109.5" cy="111.1" r="9.6" fill="#000"/>
<circle cx="1135.2" cy="86.5" r="9.6" fill="#000"/>
<path d="M160.0,953.0C165.5,953.7 206.2,957.9 219.3,960.3C232.4,962.7 285.5,975.0 300.0,979.0C314.5,983.0 360.1,1000.7 375.0,1003.0C389.9,1005.3 446.7,1003.5 460.0,1003.5C473.3,1003.5 509.8,1003.5 517.0,1003.5C524.2,1003.5 533.4,1003.5 537.5,1003.5C541.6,1003.5 554.0,1008.9 561.0,1003.5C568.0,998.1 601.3,952.1 613.0,945.5C624.7,938.9 675.1,937.2 686.0,933.0C696.9,928.8 721.3,909.6 729.5,900.5C737.7,891.4 766.7,842.3 773.6,835.3C780.5,828.3 798.1,833.3 803.4,825.6C808.7,817.9 825.1,762.7 830.5,753.2C835.9,743.7 855.6,731.0 861.0,724.0C866.4,717.0 882.9,688.3 888.3,678.3C893.7,668.3 912.7,629.2 918.5,616.4C924.3,603.6 944.7,553.2 950.4,541.0C956.1,528.8 973.8,498.6 979.3,486.2C984.8,473.8 1003.7,420.9 1009.0,408.0C1014.3,395.1 1030.7,358.1 1036.0,348.0C1041.3,337.9 1060.7,309.9 1066.0,299.3C1071.3,288.7 1087.6,244.6 1093.0,234.0C1098.4,223.4 1117.9,193.5 1123.6,185.5C1129.3,177.5 1148.9,153.7 1154.2,147.8C1159.5,141.9 1175.2,126.4 1180.2,122.0C1185.2,117.6 1205.5,102.9 1208.1,100.9" fill="none" stroke="#1e1e1e" stroke-width="2.1" mask="url(#m_ocirc)"/>
<circle cx="160.0" cy="953.0" r="8.3" fill="#fff" stroke="#2e2e2e" stroke-width="2.2"/>
<circle cx="219.3" cy="960.3" r="8.3" fill="#fff" stroke="#2e2e2e" stroke-width="2.2"/>
<circle cx="375.0" cy="1003.0" r="8.3" fill="#fff" stroke="#2e2e2e" stroke-width="2.2"/>
<circle cx="460.0" cy="1003.5" r="8.3" fill="#fff" stroke="#2e2e2e" stroke-width="2.2"/>
<circle cx="517.0" cy="1003.5" r="8.3" fill="#fff" stroke="#2e2e2e" stroke-width="2.2"/>
<circle cx="537.5" cy="1003.5" r="8.3" fill="#fff" stroke="#2e2e2e" stroke-width="2.2"/>
<circle cx="561.0" cy="1003.5" r="8.3" fill="#fff" stroke="#2e2e2e" stroke-width="2.2"/>
<circle cx="613.0" cy="945.5" r="8.3" fill="#fff" stroke="#2e2e2e" stroke-width="2.2"/>
<circle cx="686.0" cy="933.0" r="8.3" fill="#fff" stroke="#2e2e2e" stroke-width="2.2"/>
<circle cx="729.5" cy="900.5" r="8.3" fill="#fff" stroke="#2e2e2e" stroke-width="2.2"/>
<circle cx="773.6" cy="835.3" r="8.3" fill="#fff" stroke="#2e2e2e" stroke-width="2.2"/>
<circle cx="803.4" cy="825.6" r="8.3" fill="#fff" stroke="#2e2e2e" stroke-width="2.2"/>
<circle cx="830.5" cy="753.2" r="8.3" fill="#fff" stroke="#2e2e2e" stroke-width="2.2"/>
<circle cx="861.0" cy="724.0" r="8.3" fill="#fff" stroke="#2e2e2e" stroke-width="2.2"/>
<circle cx="888.3" cy="678.3" r="8.3" fill="#fff" stroke="#2e2e2e" stroke-width="2.2"/>
<circle cx="918.5" cy="616.4" r="8.3" fill="#fff" stroke="#2e2e2e" stroke-width="2.2"/>
<circle cx="950.4" cy="541.0" r="8.3" fill="#fff" stroke="#2e2e2e" stroke-width="2.2"/>
<circle cx="979.3" cy="486.2" r="8.3" fill="#fff" stroke="#2e2e2e" stroke-width="2.2"/>
<circle cx="1009.0" cy="408.0" r="8.3" fill="#fff" stroke="#2e2e2e" stroke-width="2.2"/>
<circle cx="1036.0" cy="348.0" r="8.3" fill="#fff" stroke="#2e2e2e" stroke-width="2.2"/>
<circle cx="1066.0" cy="299.3" r="8.3" fill="#fff" stroke="#2e2e2e" stroke-width="2.2"/>
<circle cx="1093.0" cy="234.0" r="8.3" fill="#fff" stroke="#2e2e2e" stroke-width="2.2"/>
<circle cx="1123.6" cy="185.5" r="8.3" fill="#fff" stroke="#2e2e2e" stroke-width="2.2"/>
<circle cx="1154.2" cy="147.8" r="8.3" fill="#fff" stroke="#2e2e2e" stroke-width="2.2"/>
<circle cx="1180.2" cy="122.0" r="8.3" fill="#fff" stroke="#2e2e2e" stroke-width="2.2"/>
<circle cx="1208.1" cy="100.9" r="8.3" fill="#fff" stroke="#2e2e2e" stroke-width="2.2"/>
<path d="M150.0,1003.0C172.2,1000.1 362.8,975.3 388.0,972.0C413.2,968.7 406.2,970.7 420.0,968.0C433.8,965.3 509.7,960.1 536.0,943.0C562.3,925.9 677.5,823.8 702.0,784.5C726.5,745.2 784.7,557.3 798.3,521.8C811.9,486.3 840.8,423.4 848.0,404.0C855.2,384.6 870.3,327.3 875.4,313.6C880.5,299.9 896.8,267.2 902.2,257.2C907.6,247.2 927.7,215.3 933.1,206.6C938.5,197.9 954.9,170.9 960.0,164.2C965.1,157.5 982.8,140.8 987.9,135.2C993.0,129.6 1009.7,108.5 1014.8,104.0C1019.9,99.5 1039.6,88.5 1042.2,86.9" fill="none" stroke="#1e1e1e" stroke-width="2.1" mask="url(#m_otri)"/>
<path d="M388.0,962.1L398.8,981.9L377.2,981.9Z" fill="#fff" stroke="#222" stroke-width="2.3" stroke-linejoin="miter"/>
<path d="M420.0,958.1L430.8,977.9L409.2,977.9Z" fill="#fff" stroke="#222" stroke-width="2.3" stroke-linejoin="miter"/>
<path d="M536.0,933.1L546.8,952.9L525.2,952.9Z" fill="#fff" stroke="#222" stroke-width="2.3" stroke-linejoin="miter"/>
<path d="M702.0,774.6L712.8,794.4L691.2,794.4Z" fill="#fff" stroke="#222" stroke-width="2.3" stroke-linejoin="miter"/>
<path d="M798.3,511.9L809.1,531.7L787.5,531.7Z" fill="#fff" stroke="#222" stroke-width="2.3" stroke-linejoin="miter"/>
<path d="M848.0,394.1L858.8,413.9L837.2,413.9Z" fill="#fff" stroke="#222" stroke-width="2.3" stroke-linejoin="miter"/>
<path d="M875.4,303.7L886.2,323.5L864.6,323.5Z" fill="#fff" stroke="#222" stroke-width="2.3" stroke-linejoin="miter"/>
<path d="M902.2,247.3L913.0,267.1L891.4,267.1Z" fill="#fff" stroke="#222" stroke-width="2.3" stroke-linejoin="miter"/>
<path d="M933.1,196.7L943.9,216.5L922.3,216.5Z" fill="#fff" stroke="#222" stroke-width="2.3" stroke-linejoin="miter"/>
<path d="M960.0,154.3L970.8,174.1L949.2,174.1Z" fill="#fff" stroke="#222" stroke-width="2.3" stroke-linejoin="miter"/>
<path d="M987.9,125.3L998.7,145.1L977.1,145.1Z" fill="#fff" stroke="#222" stroke-width="2.3" stroke-linejoin="miter"/>
<path d="M1014.8,94.1L1025.6,113.9L1004.0,113.9Z" fill="#fff" stroke="#222" stroke-width="2.3" stroke-linejoin="miter"/>
<path d="M1042.2,77.0L1053.0,96.8L1031.4,96.8Z" fill="#fff" stroke="#222" stroke-width="2.3" stroke-linejoin="miter"/>
<rect x="548.8" y="901.8" width="14.4" height="14.4" fill="#fff" stroke="#4a4a4a" stroke-width="2.3"/>
<path d="M415.8,942.7L422.1,949.0L415.8,955.3L409.5,949.0Z" fill="#fff" stroke="#3a3a3a" stroke-width="2.6"/><circle cx="415.8" cy="949.0" r="1.4" fill="#b0b0b0"/>
<path d="M441.0,979.1L443.5,985.4L450.3,985.9L445.1,990.2L446.8,996.8L441.0,993.2L435.2,996.8L436.9,990.2L431.7,985.9L438.5,985.4Z" fill="#fff" stroke="#222" stroke-width="2.5" stroke-linejoin="miter"/>
<circle cx="505.5" cy="944.5" r="8.0" fill="#fff" stroke="#000" stroke-width="2.4"/><path d="M497.5,944.5A8.0,8.0 0 0 1 513.5,944.5Z" fill="#000" stroke="#000" stroke-width="2.4"/>
<circle cx="460.0" cy="993.0" r="8.0" fill="#fff" stroke="#000" stroke-width="2.4"/><path d="M452.0,993.0A8.0,8.0 0 0 1 468.0,993.0Z" fill="#000" stroke="#000" stroke-width="2.4"/>
<path d="M245.0,998.0C253.9,998.0 325.8,1000.5 340.0,998.0C354.2,995.5 385.6,972.2 396.8,971.5C408.0,970.8 443.9,995.9 460.0,990.0C476.1,984.1 552.6,926.9 569.4,908.6C586.2,890.3 626.9,823.4 640.1,793.8C653.3,764.2 701.6,616.9 711.0,591.0C720.4,565.1 735.9,529.6 741.0,516.8C746.1,504.0 761.0,466.4 765.9,453.4C770.8,440.4 788.1,391.9 793.1,377.9C798.1,363.9 814.6,316.5 819.9,302.9C825.2,289.3 844.1,243.6 849.5,231.8C854.9,220.0 872.8,186.1 878.2,176.5C883.6,166.9 902.0,136.8 907.3,129.2C912.6,121.6 930.2,100.4 935.3,95.2C940.4,90.0 957.3,77.2 962.4,73.8C967.5,70.4 987.6,60.0 990.2,58.6" fill="none" stroke="#1e1e1e" stroke-width="2.1" mask="url(#m_ftri_d)"/>
<path d="M233.5,988.0L256.5,988.0L245.0,1008.0Z" fill="#000"/>
<path d="M328.5,988.0L351.5,988.0L340.0,1008.0Z" fill="#000"/>
<path d="M385.3,961.5L408.3,961.5L396.8,981.5Z" fill="#000"/>
<path d="M557.9,898.6L580.9,898.6L569.4,918.6Z" fill="#000"/>
<path d="M628.6,783.8L651.6,783.8L640.1,803.8Z" fill="#000"/>
<path d="M699.5,581.0L722.5,581.0L711.0,601.0Z" fill="#000"/>
<path d="M729.5,506.8L752.5,506.8L741.0,526.8Z" fill="#000"/>
<path d="M754.4,443.4L777.4,443.4L765.9,463.4Z" fill="#000"/>
<path d="M781.6,367.9L804.6,367.9L793.1,387.9Z" fill="#000"/>
<path d="M808.4,292.9L831.4,292.9L819.9,312.9Z" fill="#000"/>
<path d="M838.0,221.8L861.0,221.8L849.5,241.8Z" fill="#000"/>
<path d="M866.7,166.5L889.7,166.5L878.2,186.5Z" fill="#000"/>
<path d="M895.8,119.2L918.8,119.2L907.3,139.2Z" fill="#000"/>
<path d="M923.8,85.2L946.8,85.2L935.3,105.2Z" fill="#000"/>
<path d="M950.9,63.8L973.9,63.8L962.4,83.8Z" fill="#000"/>
<path d="M978.7,48.6L1001.7,48.6L990.2,68.6Z" fill="#000"/>
<path d="M150.0,1004.0C175.2,1002.0 381.7,988.6 420.0,983.0C458.3,977.4 545.0,948.6 560.5,944.0C576.0,939.4 572.8,958.9 586.3,933.3C599.8,907.7 692.8,698.3 705.5,669.8C718.2,641.3 718.0,637.9 722.4,628.3C726.8,618.7 747.3,581.8 752.4,567.2C757.5,552.6 772.2,488.1 777.0,472.0C781.8,455.9 798.5,407.9 803.5,394.5C808.5,381.1 825.6,341.4 830.8,328.8C836.0,316.2 853.7,271.9 858.8,259.8C863.9,247.7 880.8,209.8 885.9,199.6C891.0,189.4 907.8,158.1 913.0,150.3C918.2,142.5 936.3,121.3 941.5,115.6C946.7,109.9 963.2,93.2 968.3,89.0C973.4,84.8 993.9,72.7 996.5,71.0" fill="none" stroke="#1e1e1e" stroke-width="2.1" mask="url(#m_otri_d)"/>
<path d="M409.2,973.4L430.8,973.4L420.0,992.6Z" fill="#fff" stroke="#222" stroke-width="2.3" stroke-linejoin="miter"/>
<path d="M549.7,934.4L571.3,934.4L560.5,953.6Z" fill="#fff" stroke="#222" stroke-width="2.3" stroke-linejoin="miter"/>
<path d="M575.5,923.7L597.1,923.7L586.3,942.9Z" fill="#fff" stroke="#222" stroke-width="2.3" stroke-linejoin="miter"/>
<path d="M694.7,660.2L716.3,660.2L705.5,679.4Z" fill="#fff" stroke="#222" stroke-width="2.3" stroke-linejoin="miter"/>
<path d="M711.6,618.7L733.2,618.7L722.4,637.9Z" fill="#fff" stroke="#222" stroke-width="2.3" stroke-linejoin="miter"/>
<path d="M741.6,557.6L763.2,557.6L752.4,576.8Z" fill="#fff" stroke="#222" stroke-width="2.3" stroke-linejoin="miter"/>
<path d="M766.2,462.4L787.8,462.4L777.0,481.6Z" fill="#fff" stroke="#222" stroke-width="2.3" stroke-linejoin="miter"/>
<path d="M792.7,384.9L814.3,384.9L803.5,404.1Z" fill="#fff" stroke="#222" stroke-width="2.3" stroke-linejoin="miter"/>
<path d="M820.0,319.2L841.6,319.2L830.8,338.4Z" fill="#fff" stroke="#222" stroke-width="2.3" stroke-linejoin="miter"/>
<path d="M848.0,250.2L869.6,250.2L858.8,269.4Z" fill="#fff" stroke="#222" stroke-width="2.3" stroke-linejoin="miter"/>
<path d="M875.1,190.0L896.7,190.0L885.9,209.2Z" fill="#fff" stroke="#222" stroke-width="2.3" stroke-linejoin="miter"/>
<path d="M902.2,140.7L923.8,140.7L913.0,159.9Z" fill="#fff" stroke="#222" stroke-width="2.3" stroke-linejoin="miter"/>
<path d="M930.7,106.0L952.3,106.0L941.5,125.2Z" fill="#fff" stroke="#222" stroke-width="2.3" stroke-linejoin="miter"/>
<path d="M957.5,79.4L979.1,79.4L968.3,98.6Z" fill="#fff" stroke="#222" stroke-width="2.3" stroke-linejoin="miter"/>
<path d="M985.7,61.4L1007.3,61.4L996.5,80.6Z" fill="#fff" stroke="#222" stroke-width="2.3" stroke-linejoin="miter"/>
<path d="M150.0,1002.0C163.7,999.6 275.5,978.5 297.0,976.0C318.5,973.5 366.7,976.2 380.0,975.0C393.3,973.8 428.3,966.2 440.0,963.0C451.7,959.8 494.7,945.4 505.0,941.0C515.3,936.6 542.4,921.3 550.0,916.0C557.6,910.7 580.4,890.2 586.0,884.0C591.6,877.8 600.9,858.4 609.8,849.3C618.7,840.2 667.7,799.5 681.0,787.0C694.3,774.5 741.6,728.1 752.3,715.6C763.0,703.1 787.6,667.8 795.5,653.0C803.4,638.2 829.5,576.8 837.2,556.5C844.9,536.2 872.2,451.3 878.0,435.0C883.8,418.7 895.1,395.0 899.5,381.7C903.9,368.4 920.1,305.8 925.2,292.1C930.3,278.4 948.5,245.0 954.0,234.8C959.5,224.6 978.4,191.9 983.8,183.2C989.2,174.5 1006.5,148.0 1011.7,141.4C1016.9,134.8 1034.5,117.6 1039.6,112.0C1044.7,106.4 1061.4,85.4 1066.4,81.0C1071.4,76.6 1090.9,66.2 1093.4,64.7" fill="none" stroke="#1e1e1e" stroke-width="2.1" mask="url(#m_star)"/>
<path d="M297.0,967.1L299.5,973.4L306.3,973.9L301.1,978.2L302.8,984.8L297.0,981.2L291.2,984.8L292.9,978.2L287.7,973.9L294.5,973.4Z" fill="#fff" stroke="#222" stroke-width="2.5" stroke-linejoin="miter"/>
<path d="M586.0,875.1L588.5,881.4L595.3,881.9L590.1,886.2L591.8,892.8L586.0,889.2L580.2,892.8L581.9,886.2L576.7,881.9L583.5,881.4Z" fill="#fff" stroke="#222" stroke-width="2.5" stroke-linejoin="miter"/>
<path d="M609.8,840.4L612.3,846.7L619.1,847.2L613.9,851.5L615.6,858.1L609.8,854.5L604.0,858.1L605.7,851.5L600.5,847.2L607.3,846.7Z" fill="#fff" stroke="#222" stroke-width="2.5" stroke-linejoin="miter"/>
<path d="M681.0,778.1L683.5,784.4L690.3,784.9L685.1,789.2L686.8,795.8L681.0,792.2L675.2,795.8L676.9,789.2L671.7,784.9L678.5,784.4Z" fill="#fff" stroke="#222" stroke-width="2.5" stroke-linejoin="miter"/>
<path d="M752.3,706.7L754.8,713.0L761.6,713.5L756.4,717.8L758.1,724.4L752.3,720.8L746.5,724.4L748.2,717.8L743.0,713.5L749.8,713.0Z" fill="#fff" stroke="#222" stroke-width="2.5" stroke-linejoin="miter"/>
<path d="M795.5,644.1L798.0,650.4L804.8,650.9L799.6,655.2L801.3,661.8L795.5,658.2L789.7,661.8L791.4,655.2L786.2,650.9L793.0,650.4Z" fill="#fff" stroke="#222" stroke-width="2.5" stroke-linejoin="miter"/>
<path d="M837.2,547.6L839.7,553.9L846.5,554.4L841.3,558.7L843.0,565.3L837.2,561.7L831.4,565.3L833.1,558.7L827.9,554.4L834.7,553.9Z" fill="#fff" stroke="#222" stroke-width="2.5" stroke-linejoin="miter"/>
<path d="M878.0,426.1L880.5,432.4L887.3,432.9L882.1,437.2L883.8,443.8L878.0,440.2L872.2,443.8L873.9,437.2L868.7,432.9L875.5,432.4Z" fill="#fff" stroke="#222" stroke-width="2.5" stroke-linejoin="miter"/>
<path d="M899.5,372.8L902.0,379.1L908.8,379.6L903.6,383.9L905.3,390.5L899.5,386.9L893.7,390.5L895.4,383.9L890.2,379.6L897.0,379.1Z" fill="#fff" stroke="#222" stroke-width="2.5" stroke-linejoin="miter"/>
<path d="M925.2,283.2L927.7,289.5L934.5,290.0L929.3,294.3L931.0,300.9L925.2,297.3L919.4,300.9L921.1,294.3L915.9,290.0L922.7,289.5Z" fill="#fff" stroke="#222" stroke-width="2.5" stroke-linejoin="miter"/>
<path d="M954.0,225.9L956.5,232.2L963.3,232.7L958.1,237.0L959.8,243.6L954.0,240.0L948.2,243.6L949.9,237.0L944.7,232.7L951.5,232.2Z" fill="#fff" stroke="#222" stroke-width="2.5" stroke-linejoin="miter"/>
<path d="M983.8,174.3L986.3,180.6L993.1,181.1L987.9,185.4L989.6,192.0L983.8,188.4L978.0,192.0L979.7,185.4L974.5,181.1L981.3,180.6Z" fill="#fff" stroke="#222" stroke-width="2.5" stroke-linejoin="miter"/>
<path d="M1011.7,132.5L1014.2,138.8L1021.0,139.3L1015.8,143.6L1017.5,150.2L1011.7,146.6L1005.9,150.2L1007.6,143.6L1002.4,139.3L1009.2,138.8Z" fill="#fff" stroke="#222" stroke-width="2.5" stroke-linejoin="miter"/>
<path d="M1039.6,103.1L1042.1,109.4L1048.9,109.9L1043.7,114.2L1045.4,120.8L1039.6,117.2L1033.8,120.8L1035.5,114.2L1030.3,109.9L1037.1,109.4Z" fill="#fff" stroke="#222" stroke-width="2.5" stroke-linejoin="miter"/>
<path d="M1066.4,72.1L1068.9,78.4L1075.7,78.9L1070.5,83.2L1072.2,89.8L1066.4,86.2L1060.6,89.8L1062.3,83.2L1057.1,78.9L1063.9,78.4Z" fill="#fff" stroke="#222" stroke-width="2.5" stroke-linejoin="miter"/>
<path d="M1093.4,55.8L1095.9,62.1L1102.7,62.6L1097.5,66.9L1099.2,73.5L1093.4,69.9L1087.6,73.5L1089.3,66.9L1084.1,62.6L1090.9,62.1Z" fill="#fff" stroke="#222" stroke-width="2.5" stroke-linejoin="miter"/>
<path d="M160.0,987.0C165.2,987.6 201.0,993.5 215.8,993.0C230.6,992.5 305.8,980.9 319.0,981.5C332.2,982.1 342.4,997.5 357.0,999.0C371.6,1000.5 462.0,1001.5 475.0,998.0C488.0,994.5 483.5,965.7 496.5,962.0C509.5,958.3 589.6,964.3 613.8,958.0C638.0,951.7 740.9,902.3 756.3,894.6C771.7,886.9 769.8,884.0 778.5,876.0C787.2,868.0 835.9,827.9 849.0,809.2C862.1,790.5 909.3,694.5 918.5,675.8C927.7,657.1 942.2,621.8 947.6,608.4C953.0,595.0 971.1,544.9 976.2,531.7C981.3,518.5 996.5,477.2 1002.0,466.6C1007.5,456.0 1029.4,431.6 1035.0,418.5C1040.6,405.4 1056.6,340.1 1061.7,326.2C1066.8,312.3 1084.6,279.9 1090.0,270.0C1095.4,260.1 1114.2,228.4 1119.5,219.8C1124.8,211.2 1141.7,184.2 1147.0,177.5C1152.3,170.8 1170.7,153.4 1175.9,147.8C1181.1,142.2 1197.3,121.6 1202.3,117.2C1207.3,112.8 1227.1,102.0 1229.6,100.4" fill="none" stroke="#1e1e1e" stroke-width="2.1" mask="url(#m_fsq)"/>
<rect x="151.5" y="978.5" width="17.0" height="17.0" fill="#000"/>
<rect x="207.3" y="984.5" width="17.0" height="17.0" fill="#000"/>
<rect x="310.5" y="973.0" width="17.0" height="17.0" fill="#000"/>
<rect x="348.5" y="990.5" width="17.0" height="17.0" fill="#000"/>
<rect x="466.5" y="989.5" width="17.0" height="17.0" fill="#000"/>
<rect x="488.0" y="953.5" width="17.0" height="17.0" fill="#000"/>
<rect x="605.3" y="949.5" width="17.0" height="17.0" fill="#000"/>
<rect x="747.8" y="886.1" width="17.0" height="17.0" fill="#000"/>
<rect x="770.0" y="867.5" width="17.0" height="17.0" fill="#000"/>
<rect x="840.5" y="800.7" width="17.0" height="17.0" fill="#000"/>
<rect x="910.0" y="667.3" width="17.0" height="17.0" fill="#000"/>
<rect x="939.1" y="599.9" width="17.0" height="17.0" fill="#000"/>
<rect x="967.7" y="523.2" width="17.0" height="17.0" fill="#000"/>
<rect x="993.5" y="458.1" width="17.0" height="17.0" fill="#000"/>
<rect x="1026.5" y="410.0" width="17.0" height="17.0" fill="#000"/>
<rect x="1053.2" y="317.7" width="17.0" height="17.0" fill="#000"/>
<rect x="1081.5" y="261.5" width="17.0" height="17.0" fill="#000"/>
<rect x="1111.0" y="211.3" width="17.0" height="17.0" fill="#000"/>
<rect x="1138.5" y="169.0" width="17.0" height="17.0" fill="#000"/>
<rect x="1167.4" y="139.3" width="17.0" height="17.0" fill="#000"/>
<rect x="1193.8" y="108.7" width="17.0" height="17.0" fill="#000"/>
<rect x="1221.1" y="91.9" width="17.0" height="17.0" fill="#000"/>
</g>
<path d="M236.8,90.4H267.8M302.0,90.4H334.5" stroke="#8c8c8c" stroke-width="3.4"/>
<circle cx="285.5" cy="90.4" r="8.0" fill="#fff" stroke="#000" stroke-width="2.4"/><path d="M277.5,90.4A8.0,8.0 0 0 1 293.5,90.4Z" fill="#000" stroke="#000" stroke-width="2.4"/>
<text class="lg" transform="translate(335.4,104.6) scale(0.94,1.05)">La<tspan font-size="25.5" dy="16.6">2</tspan><tspan dy="-16.6" dx="1.2">O</tspan><tspan font-size="25.5" dy="16.6" dx="1">3</tspan></text>
<path d="M231.8,146.6H262.8M297.0,146.6H329.5" stroke="#8c8c8c" stroke-width="3.4"/>
<path d="M280.5,135.0L292.1,146.6L280.5,158.2L268.9,146.6Z" fill="#000"/>
<text class="lg" transform="translate(329.8,160.8) scale(0.94,1.05)">Ce(0.05)-La-O</text>
<path d="M231.8,202.7H262.8M297.0,202.7H329.5" stroke="#8c8c8c" stroke-width="3.4"/>
<rect x="273.3" y="195.5" width="14.4" height="14.4" fill="#fff" stroke="#4a4a4a" stroke-width="2.3"/>
<text class="lg" transform="translate(329.8,216.9) scale(0.94,1.05)">Ce(0.10)-La-O</text>
<path d="M231.8,258.9H262.8M297.0,258.9H329.5" stroke="#8c8c8c" stroke-width="3.4"/>
<circle cx="280.5" cy="258.9" r="9.6" fill="#000"/>
<text class="lg" transform="translate(329.8,273.1) scale(0.94,1.05)">Ce(0.20)-La-O</text>
<path d="M231.8,315.0H262.8M297.0,315.0H329.5" stroke="#8c8c8c" stroke-width="3.4"/>
<circle cx="280.5" cy="315.0" r="8.3" fill="#fff" stroke="#2e2e2e" stroke-width="2.2"/>
<text class="lg" transform="translate(329.8,329.2) scale(0.94,1.05)">Ce(0.30)-La-O</text>
<path d="M231.8,371.1H262.8M297.0,371.1H329.5" stroke="#8c8c8c" stroke-width="3.4"/>
<path d="M280.5,364.8L286.8,371.1L280.5,377.4L274.2,371.1Z" fill="#fff" stroke="#3a3a3a" stroke-width="2.6"/><circle cx="280.5" cy="371.1" r="1.4" fill="#b0b0b0"/>
<text class="lg" transform="translate(329.8,385.3) scale(0.94,1.05)">Ce(0.40)-La-O</text>
<path d="M231.8,427.3H262.8M297.0,427.3H329.5" stroke="#8c8c8c" stroke-width="3.4"/>
<path d="M280.5,414.2L291.3,434.0L269.7,434.0Z" fill="#fff" stroke="#222" stroke-width="2.3" stroke-linejoin="miter"/>
<text class="lg" transform="translate(329.8,441.5) scale(0.94,1.05)">Ce(0.50)-La-O</text>
<path d="M231.8,483.5H262.8M297.0,483.5H329.5" stroke="#8c8c8c" stroke-width="3.4"/>
<path d="M269.0,476.7L292.0,476.7L280.5,496.7Z" fill="#000"/>
<text class="lg" transform="translate(329.8,497.7) scale(0.94,1.05)">Ce(0.60)-La-O</text>
<path d="M231.8,539.6H262.8M297.0,539.6H329.5" stroke="#8c8c8c" stroke-width="3.4"/>
<path d="M269.7,533.0L291.3,533.0L280.5,552.2Z" fill="#fff" stroke="#222" stroke-width="2.3" stroke-linejoin="miter"/>
<text class="lg" transform="translate(329.8,553.8) scale(0.94,1.05)">Ce(0.70)-La-O</text>
<path d="M231.8,595.8H262.8M297.0,595.8H329.5" stroke="#8c8c8c" stroke-width="3.4"/>
<path d="M280.5,588.4L283.0,594.7L289.8,595.1L284.6,599.5L286.3,606.1L280.5,602.4L274.7,606.1L276.4,599.5L271.2,595.1L278.0,594.7Z" fill="#fff" stroke="#222" stroke-width="2.5" stroke-linejoin="miter"/>
<text class="lg" transform="translate(329.8,610.0) scale(0.94,1.05)">Ce(0.80)-La-O</text>
<path d="M231.8,651.9H262.8M297.0,651.9H329.5" stroke="#8c8c8c" stroke-width="3.4"/>
<rect x="272.0" y="643.4" width="17.0" height="17.0" fill="#000"/>
<text class="lg" transform="translate(329.8,666.1) scale(0.94,1.05)">CeO<tspan font-size="25.5" dy="16.6">2</tspan></text>
<g stroke="#111" stroke-width="4" fill="none">
<path d="M175.5,32.0 H1406.0 V1005.0 H175.5 Z" stroke-linejoin="miter"/>
<path d="M157.5,1005.0H175.5M157.5,810.4H175.5M157.5,615.8H175.5M157.5,421.2H175.5M157.5,226.6H175.5M157.5,32.0H175.5M165.5,907.7H175.5M165.5,713.1H175.5M165.5,518.5H175.5M165.5,323.9H175.5M165.5,129.3H175.5M175.5,1005.0V1023.0M312.2,1005.0V1023.0M448.9,1005.0V1023.0M585.7,1005.0V1023.0M722.4,1005.0V1023.0M859.1,1005.0V1023.0M995.8,1005.0V1023.0M1132.6,1005.0V1023.0M1269.3,1005.0V1023.0M1406.0,1005.0V1023.0M243.9,1005.0V1015.0M380.6,1005.0V1015.0M517.3,1005.0V1015.0M654.0,1005.0V1015.0M790.8,1005.0V1015.0M927.5,1005.0V1015.0M1064.2,1005.0V1015.0M1200.9,1005.0V1015.0M1337.6,1005.0V1015.0"/>
</g>
<g class="tk" text-anchor="end">
<text x="150" y="1021.0">0</text>
<text x="153.5" y="824.9">20</text>
<text x="153.5" y="630.3">40</text>
<text x="153.5" y="435.7">60</text>
<text x="153.5" y="241.1">80</text>
<text x="153.5" y="46.5">100</text>
</g><g class="tk" text-anchor="middle">
<text x="174.7" y="1068">300</text>
<text x="311.4" y="1068">350</text>
<text x="448.1" y="1068">400</text>
<text x="584.9" y="1068">450</text>
<text x="721.6" y="1068">500</text>
<text x="858.3" y="1068">550</text>
<text x="995.0" y="1068">600</text>
<text x="1131.8" y="1068">650</text>
<text x="1268.5" y="1068">700</text>
<text x="1405.2" y="1068">750</text>
</g>
<text class="tt" x="572" y="1142">Temperature / <tspan font-size="31" dy="-28">o</tspan><tspan dy="28">C</tspan></text>
<text class="tt" transform="translate(53,838.5) rotate(-90)" x="0" y="0">Conversion of methane / %</text>
</g>
</svg>
</body></html>
